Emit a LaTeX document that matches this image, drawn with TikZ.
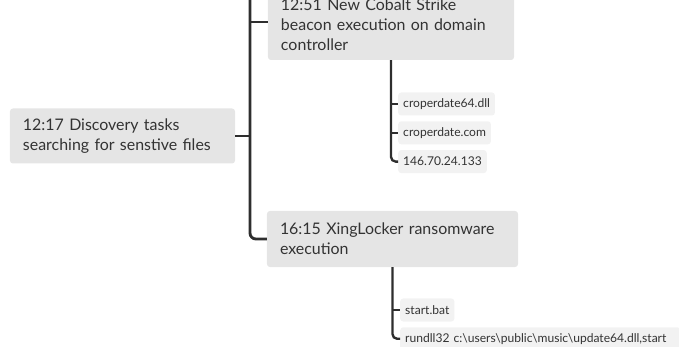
\documentclass[tikz,border=0pt]{standalone}
\usepackage{fontspec}
\setmainfont{Lato}
\usepackage{tikz}
\usetikzlibrary{%
  positioning
 ,calc
}
\definecolor{topicfill}{HTML}{E5E5E5}
\definecolor{leaffill}{HTML}{F2F2F2}
\definecolor{inkline}{HTML}{2E2E2E}
\definecolor{inktext}{HTML}{333333}
\tikzstyle{topic}=[fill=topicfill,rounded corners=2.5pt,inner xsep=0.39cm,inner ysep=0pt,align=left,text=inktext,font=\fontsize{13.6}{17}\selectfont]
\tikzstyle{leaf}=[fill=leaffill,rounded corners=2.5pt,inner xsep=0.15cm,inner ysep=0pt,minimum height=0.69cm,text=inktext,font=\fontsize{10.3}{12}\selectfont]
\tikzstyle{trunk}=[draw=inkline,line width=2.4pt,rounded corners=5pt]
\tikzstyle{twig}=[draw=inkline,line width=2pt,rounded corners=4pt]

\begin{document}
\begin{tikzpicture}[x=0.03cm,y=-0.03cm]
  \useasboundingbox (0,0) rectangle (679,347);
  \clip (0,0) rectangle (679,347);
  % main topics
  \node[topic,text width=5.97cm,minimum height=1.65cm] (disc) at (122.5,136)
    {12:17 Discovery tasks\\searching for senstive files};
  \node[topic,text width=6.6cm,minimum height=2.1cm] (cob) at (391,25)
    {12:51 New Cobalt Strike\\beacon execution on domain\\controller};
  \node[topic,text width=6.75cm,minimum height=1.68cm] (xing) at (392.5,239)
    {16:15 XingLocker ransomware\\execution};
  % details
  \node[leaf,anchor=west] (c1) at (398,104) {croperdate64.dll};
  \node[leaf,below=0.16cm of c1.south west,anchor=north west] (c2) {croperdate.com};
  \node[leaf,below=0.16cm of c2.south west,anchor=north west] (c3) {146.70.24.133};
  \node[leaf,anchor=west] (s1) at (400,310) {start.bat};
  \node[leaf,below=0.16cm of s1.south west,anchor=north west,text width=8.1cm] (s2) {rundll32 c:\textbackslash users\textbackslash public\textbackslash music\textbackslash update64.dll,start};
  % connectors
  \coordinate (j) at (250,136);
  \coordinate (up) at (250,-10);
  \coordinate (cobin) at ([yshift=0.09cm]cob.west);
  \path[trunk] (disc.east) -- (j);
  \path[trunk] (up) -- (j) |- (xing.west);
  \path[trunk] (cobin -| j) -- (cobin);
  \path[twig] (cob.south) |- (c3.west);
  \path[twig] (c1.west -| cob.south) -- (c1.west);
  \path[twig] (c2.west -| cob.south) -- (c2.west);
  \path[twig] (xing.south) |- (s2.west);
  \path[twig] (s1.west -| xing.south) -- (s1.west);
\end{tikzpicture}
\end{document}
